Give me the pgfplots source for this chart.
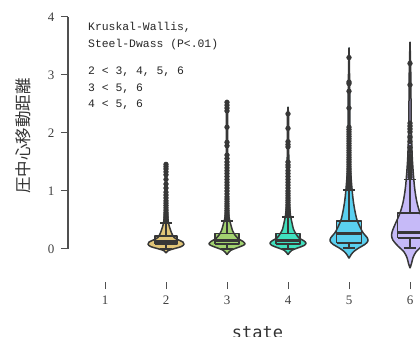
\documentclass[border=0pt]{standalone}
\usepackage{pgfplots}
\pgfplotsset{compat=1.18}
\usepackage{pgfplotstable}
\usepackage{fontspec}
\setmainfont{Liberation Serif}
\newfontfamily\monof{Liberation Mono}
\newfontfamily\smono{DejaVu Sans Mono}
\newfontfamily\cjk{Noto Sans CJK JP}

\definecolor{cTwo}{RGB}{225,197,120}
\definecolor{cThree}{RGB}{162,210,112}
\definecolor{cFour}{RGB}{64,224,190}
\definecolor{cFive}{RGB}{90,208,240}
\definecolor{cSix}{RGB}{198,186,248}
\definecolor{outl}{RGB}{55,55,55}
\definecolor{tickc}{RGB}{80,80,80}

% violin half-width profiles (w in px, 61 px = 1 category)
\pgfplotstableread{
y w
-0.07 0
-0.03 2
0.00 7
0.04 15
0.08 18
0.12 17
0.16 12
0.20 8
0.28 5.5
0.38 3.5
0.48 2.2
0.70 1.2
1.00 0.8
1.30 0.7
1.46 0.5
1.48 0
}\vTwo
\pgfplotstableread{
y w
-0.10 0
-0.06 1.5
-0.02 4
0.02 10
0.06 16
0.09 18
0.13 16
0.18 11
0.24 8
0.32 5.5
0.42 3.8
0.55 2.0
0.80 1.2
1.20 0.8
1.80 0.7
2.30 0.6
2.55 0
}\vThree
\pgfplotstableread{
y w
-0.10 0
-0.06 1.5
-0.02 4
0.02 10
0.06 16
0.10 18
0.14 16
0.19 11
0.26 8
0.34 5.5
0.45 4
0.58 2.5
0.80 1.4
1.20 0.9
1.80 0.7
2.25 0.6
2.45 0
}\vFour
\pgfplotstableread{
y w
-0.16 0
-0.10 2
-0.04 5
0.02 10
0.08 16
0.14 19
0.20 18
0.28 14
0.38 11
0.50 8
0.65 6
0.80 4.5
1.00 3.2
1.40 1.5
2.00 1.0
2.80 0.7
3.47 0
}\vFive
\pgfplotstableread{
y w
-0.33 0
-0.25 1.5
-0.15 3
-0.05 6
0.05 12
0.15 17
0.24 18.5
0.34 17
0.46 14
0.62 10
0.80 7
1.00 5
1.20 3.8
1.60 2.2
2.20 1.2
3.00 0.8
3.57 0
}\vSix

% outliers
\pgfplotstableread{
y
1.46
1.42
1.38
1.33
1.28
1.20
1.12
1.05
0.98
0.93
0.88
0.83
0.79
0.75
0.71
0.67
0.63
0.60
0.57
0.54
0.51
0.48
}\oTwo
\pgfplotstableread{
y
2.53
2.48
2.43
2.38
2.10
1.84
1.78
1.62
1.56
1.50
1.45
1.40
1.35
1.30
1.25
1.20
1.15
1.10
1.05
1.00
0.95
0.90
0.86
0.82
0.78
0.74
0.70
0.66
0.62
0.58
0.55
0.52
}\oThree
\pgfplotstableread{
y
2.33
2.08
1.85
1.80
1.76
1.50
1.45
1.41
1.35
1.30
1.25
1.20
1.15
1.10
1.05
1.00
0.96
0.92
0.88
0.84
0.80
0.76
0.72
0.68
0.64
0.61
0.58
}\oFour
\pgfplotstableread{
y
3.30
2.88
2.85
2.72
2.43
2.10
2.06
2.02
1.98
1.94
1.90
1.86
1.82
1.78
1.74
1.70
1.66
1.62
1.58
1.54
1.50
1.46
1.42
1.38
1.34
1.30
1.26
1.22
1.18
1.14
1.10
1.06
}\oFive
\pgfplotstableread{
y
3.20
2.83
2.17
2.12
2.07
2.02
1.93
1.85
1.75
1.68
1.60
1.55
1.50
1.45
1.40
1.36
1.32
1.28
1.24
}\oSix

\tikzset{vl/.style={draw=outl, line width=1.5pt, line join=round}}

% #1 centre, #2 profile, #3 colour, #4 low cap, #5 q1, #6 median, #7 q3, #8 up cap, #9 box half width
\newcommand{\violin}[9]{%
  \pgfmathsetmacro\vbxl{#1-#9}\pgfmathsetmacro\vbxr{#1+#9}%
  \pgfmathsetmacro\vcapl{#1-0.1}\pgfmathsetmacro\vcapr{#1+0.1}%
  \addplot[fill=#3, draw=#3, line width=0.5pt, smooth, tension=0.5] table[x expr={#1+\thisrow{w}/61}, y=y] {#2};
  \addplot[fill=#3, draw=#3, line width=0.5pt, smooth, tension=0.5] table[x expr={#1-\thisrow{w}/61}, y=y] {#2};
  \addplot[fill=#3, draw=none] coordinates {(\vbxl,#5) (\vbxr,#5) (\vbxr,#7) (\vbxl,#7) (\vbxl,#5)};
  \addplot[vl, smooth, tension=0.5] table[x expr={#1+\thisrow{w}/61}, y=y] {#2};
  \addplot[vl, smooth, tension=0.5] table[x expr={#1-\thisrow{w}/61}, y=y] {#2};
  \addplot[vl] coordinates {(\vbxl,#5) (\vbxr,#5) (\vbxr,#7) (\vbxl,#7) (\vbxl,#5)};
  \addplot[vl] coordinates {(#1,#7) (#1,#8)};
  \addplot[vl] coordinates {(\vcapl,#8) (\vcapr,#8)};
  \addplot[vl] coordinates {(#1,#5) (#1,#4)};
  \addplot[vl] coordinates {(\vcapl,#4) (\vcapr,#4)};
  \addplot[vl, line width=2.8pt] coordinates {(\vbxl,#6) (\vbxr,#6)};
}

\begin{document}
\begin{tikzpicture}
\begin{axis}[
  at={(0pt,0pt)}, anchor=south west,
  x=61pt, y=58pt,
  xmin=0.3934, xmax=6.164, ymin=-0.569, ymax=4,
  clip=false,
  axis x line=bottom, axis y line=left,
  axis line style={draw=none,-},
  xtick={1,2,3,4,5,6}, ytick={0,1,2,3,4},
  tick align=outside, major tick length=7pt,
  tick style={color=tickc, line width=1pt},
  /pgf/number format/assume math mode=true,
  ticklabel style={font=\fontsize{13}{14}\selectfont, text=black!75},
  xticklabel style={yshift=-3.5pt},
  yticklabel style={xshift=-3pt},
]
\draw[tickc, line width=1.2pt] (axis cs:0.3934,0) -- (axis cs:0.3934,4);

\violin{2}{\vTwo}{cTwo}{0.0}{0.09}{0.13}{0.22}{0.45}{0.18}
\addplot[only marks, mark=*, mark size=2.4pt, color=outl] table[x expr=2, y=y] {\oTwo};
\violin{3}{\vThree}{cThree}{0.0}{0.09}{0.14}{0.27}{0.48}{0.197}
\addplot[only marks, mark=*, mark size=2.4pt, color=outl] table[x expr=3, y=y] {\oThree};
\violin{4}{\vFour}{cFour}{0.0}{0.09}{0.14}{0.27}{0.55}{0.197}
\addplot[only marks, mark=*, mark size=2.4pt, color=outl] table[x expr=4, y=y] {\oFour};
\violin{5}{\vFive}{cFive}{0.02}{0.10}{0.27}{0.48}{1.02}{0.205}
\addplot[only marks, mark=*, mark size=2.4pt, color=outl] table[x expr=5, y=y] {\oFive};
\violin{6}{\vSix}{cSix}{0.02}{0.19}{0.28}{0.62}{1.20}{0.205}
\addplot[only marks, mark=*, mark size=2.4pt, color=outl] table[x expr=6, y=y] {\oSix};

\node[anchor=base west, font=\monof\fontsize{11.4}{13}\selectfont, text=black!85, inner sep=0pt] at (axis cs:0.7213,3.759) {Kruskal-Wallis,};
\node[anchor=base west, font=\monof\fontsize{11.4}{13}\selectfont, text=black!85, inner sep=0pt] at (axis cs:0.7213,3.466) {Steel-Dwass (P<.01)};
\node[anchor=base west, font=\monof\fontsize{11.4}{13}\selectfont, text=black!85, inner sep=0pt] at (axis cs:0.7213,3.017) {2 < 3, 4, 5, 6};
\node[anchor=base west, font=\monof\fontsize{11.4}{13}\selectfont, text=black!85, inner sep=0pt] at (axis cs:0.7213,2.724) {3 < 5, 6};
\node[anchor=base west, font=\monof\fontsize{11.4}{13}\selectfont, text=black!85, inner sep=0pt] at (axis cs:0.7213,2.448) {4 < 5, 6};

\node[rotate=90, font=\cjk\fontsize{16.5}{18}\selectfont, text=black!80, inner sep=0pt] at (axis cs:-0.344,1.95) {圧中心移動距離};
\node[anchor=base, font=\smono\fontsize{17}{19}\selectfont, text=black!80, inner sep=0pt] at (axis cs:3.5,-1.535) {state};
\end{axis}
\pgfresetboundingbox
\useasboundingbox (-68pt,-55pt) rectangle (352pt,282pt);
\end{tikzpicture}
\end{document}
